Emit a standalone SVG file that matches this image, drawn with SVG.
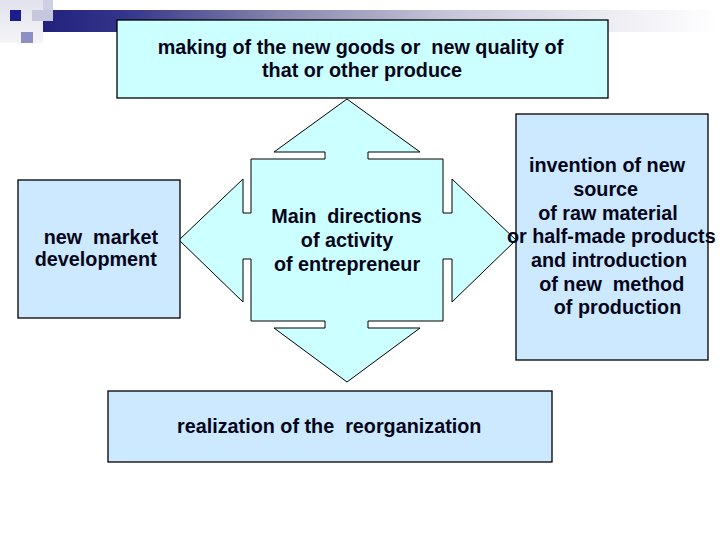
<svg xmlns="http://www.w3.org/2000/svg" width="720" height="540" viewBox="0 0 720 540">
<defs>
<linearGradient id="bar" x1="43" y1="0" x2="720" y2="0" gradientUnits="userSpaceOnUse">
<stop offset="0" stop-color="#22227e"/>
<stop offset="0.12" stop-color="#34348a"/>
<stop offset="0.35" stop-color="#8686ae"/>
<stop offset="0.6" stop-color="#c6c6da"/>
<stop offset="0.85" stop-color="#eeeef4"/>
<stop offset="1" stop-color="#ffffff"/>
</linearGradient>
<linearGradient id="corner" x1="0" y1="0" x2="0" y2="1">
<stop offset="0" stop-color="#e2e2ee"/>
<stop offset="1" stop-color="#f4f4f8"/>
</linearGradient>
<style>
.box{stroke:#000;stroke-width:1.3}
.cyan{fill:#ccffff}
.blue{fill:#cce9ff}
.arrow{fill:#ccffff;stroke:#000;stroke-width:1}
.t{font-family:"Liberation Sans",Arial,sans-serif;font-size:19.8px;font-weight:bold;fill:#05051a;text-anchor:middle;white-space:pre}
</style>
</defs>
<rect width="720" height="540" fill="#ffffff"/>
<g id="header">
<rect x="0" y="0" width="43" height="43" fill="url(#corner)"/>
<rect x="43" y="10" width="677" height="22" fill="url(#bar)"/>
<rect x="10" y="10" width="11" height="11" fill="#1c1c8e"/>
<rect x="32" y="10" width="21" height="11" fill="#c6c6de"/>
<rect x="43" y="0" width="10" height="10" fill="#cfcfe4"/>
<rect x="21" y="32" width="12" height="11" fill="#8e8ec2"/>
</g>
<g id="center-arrow">
<path class="arrow" d="M347,99 L420,152 L368,152 L368,159 L443,159 L443,213 L452,213 L452,179 L516,240 L452,302 L452,259 L443,259 L443,321 L368,321 L368,328 L420,328 L347,382 L274,328 L325,328 L325,321 L251,321 L251,259 L243,259 L243,302 L179,240 L243,179 L243,213 L251,213 L251,159 L325,159 L325,152 L274,152 Z"/>
<text class="t" x="346.5" y="223" xml:space="preserve">Main  directions</text>
<text class="t" x="347" y="247">of activity</text>
<text class="t" x="347" y="271">of entrepreneur</text>
</g>
<g id="top-node">
<rect class="box cyan" x="117" y="20" width="491" height="78"/>
<text class="t" x="360.5" y="54" xml:space="preserve">making of the new goods or  new quality of</text>
<text class="t" x="362" y="77">that or other produce</text>
</g>
<g id="left-node">
<rect class="box blue" x="18" y="180" width="162" height="138"/>
<text class="t" x="100.8" y="244" xml:space="preserve">new  market</text>
<text class="t" x="95.8" y="266">development</text>
</g>
<g id="right-node">
<rect class="box blue" x="516" y="114" width="192" height="246"/>
<text class="t" x="607" y="171.5">invention of new</text>
<text class="t" x="605.7" y="196">source</text>
<text class="t" x="608" y="220">of raw material</text>
<text class="t" x="611.3" y="243.3">or half-made products</text>
<text class="t" x="609" y="267">and introduction</text>
<text class="t" x="611.7" y="290.7" xml:space="preserve">of new  method</text>
<text class="t" x="617.5" y="314">of production</text>
</g>
<g id="bottom-node">
<rect class="box blue" x="108" y="391" width="444" height="71"/>
<text class="t" x="329.2" y="433" xml:space="preserve">realization of the  reorganization</text>
</g>
<g id="connectors"/>
</svg>
